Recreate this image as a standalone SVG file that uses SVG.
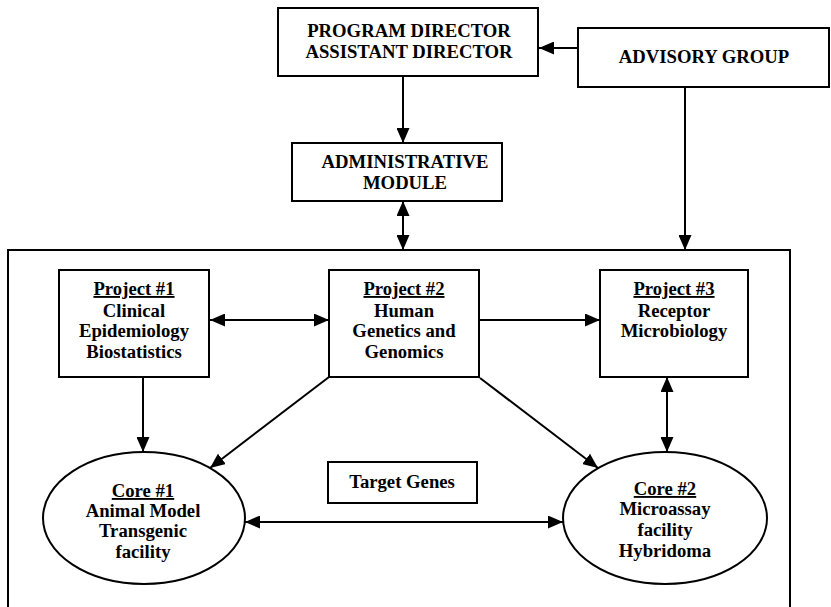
<svg xmlns="http://www.w3.org/2000/svg" width="831" height="607" viewBox="0 0 831 607">
<style>
.box{fill:#fff;stroke:#000;stroke-width:2}
.ln{fill:none;stroke:#000;stroke-width:2}
text{font-family:"Liberation Serif","Times New Roman",serif;font-weight:bold;font-size:18.7px;fill:#000;text-anchor:middle}
.u{text-decoration:underline}
</style>
<defs>
<marker id="ah" viewBox="0 0 15 13" refX="15" refY="6.5" markerWidth="15" markerHeight="13" orient="auto-start-reverse" markerUnits="userSpaceOnUse">
<path d="M0,0 L15,6.5 L0,13 z" fill="#000"/>
</marker>
</defs>
<rect width="831" height="607" fill="#fff"/>
<g id="container">
<path class="ln" d="M8,607 L8,250 L790,250 L790,607"/>
</g>
<g id="program-director">
<rect class="box" x="278" y="8" width="260" height="68"/>
<text x="409" y="37">PROGRAM DIRECTOR</text>
<text x="409" y="58">ASSISTANT DIRECTOR</text>
</g>
<g id="advisory-group">
<rect class="box" x="578" y="28" width="251" height="59"/>
<text x="704" y="63">ADVISORY GROUP</text>
</g>
<g id="administrative-module">
<rect class="box" x="292" y="143" width="210" height="58"/>
<text x="405" y="168">ADMINISTRATIVE</text>
<text x="405" y="189">MODULE</text>
</g>
<g id="project1">
<rect class="box" x="59" y="270" width="150" height="107"/>
<text x="134" y="295" class="u">Project #1</text>
<text x="134" y="317">Clinical</text>
<text x="134" y="337">Epidemiology</text>
<text x="134" y="358">Biostatistics</text>
</g>
<g id="project2">
<rect class="box" x="329" y="270" width="150" height="107"/>
<text x="404" y="295" class="u">Project #2</text>
<text x="404" y="317">Human</text>
<text x="404" y="337">Genetics and</text>
<text x="404" y="358">Genomics</text>
</g>
<g id="project3">
<rect class="box" x="600" y="270" width="148" height="107"/>
<text x="674" y="295" class="u">Project #3</text>
<text x="674" y="317">Receptor</text>
<text x="674" y="337">Microbiology</text>
</g>
<g id="target-genes">
<rect class="box" x="328" y="462" width="149" height="41"/>
<text x="402" y="488">Target Genes</text>
</g>
<g id="core1">
<ellipse class="box" cx="144" cy="518" rx="101" ry="66"/>
<text x="143" y="497" class="u">Core #1</text>
<text x="143" y="517">Animal Model</text>
<text x="143" y="537">Transgenic</text>
<text x="143" y="558">facility</text>
</g>
<g id="core2">
<ellipse class="box" cx="665" cy="518" rx="102" ry="66"/>
<text x="665" y="495" class="u">Core #2</text>
<text x="665" y="515">Microassay</text>
<text x="665" y="536">facility</text>
<text x="665" y="557">Hybridoma</text>
</g>
<g id="connectors">
<line class="ln" x1="578" y1="48" x2="539" y2="48" marker-end="url(#ah)"/>
<line class="ln" x1="403" y1="76" x2="403" y2="143" marker-end="url(#ah)"/>
<line class="ln" x1="403" y1="201" x2="403" y2="250" marker-start="url(#ah)" marker-end="url(#ah)"/>
<line class="ln" x1="685" y1="87" x2="685" y2="250" marker-end="url(#ah)"/>
<line class="ln" x1="210" y1="320" x2="329" y2="320" marker-start="url(#ah)" marker-end="url(#ah)"/>
<line class="ln" x1="480" y1="320" x2="600" y2="320" marker-end="url(#ah)"/>
<line class="ln" x1="143" y1="377" x2="143" y2="452" marker-end="url(#ah)"/>
<line class="ln" x1="329" y1="377" x2="210" y2="468" marker-end="url(#ah)"/>
<line class="ln" x1="480" y1="378" x2="598" y2="468" marker-end="url(#ah)"/>
<line class="ln" x1="667" y1="377" x2="667" y2="452" marker-start="url(#ah)" marker-end="url(#ah)"/>
<line class="ln" x1="245" y1="522" x2="563" y2="522" marker-start="url(#ah)" marker-end="url(#ah)"/>
</g>
</svg>
